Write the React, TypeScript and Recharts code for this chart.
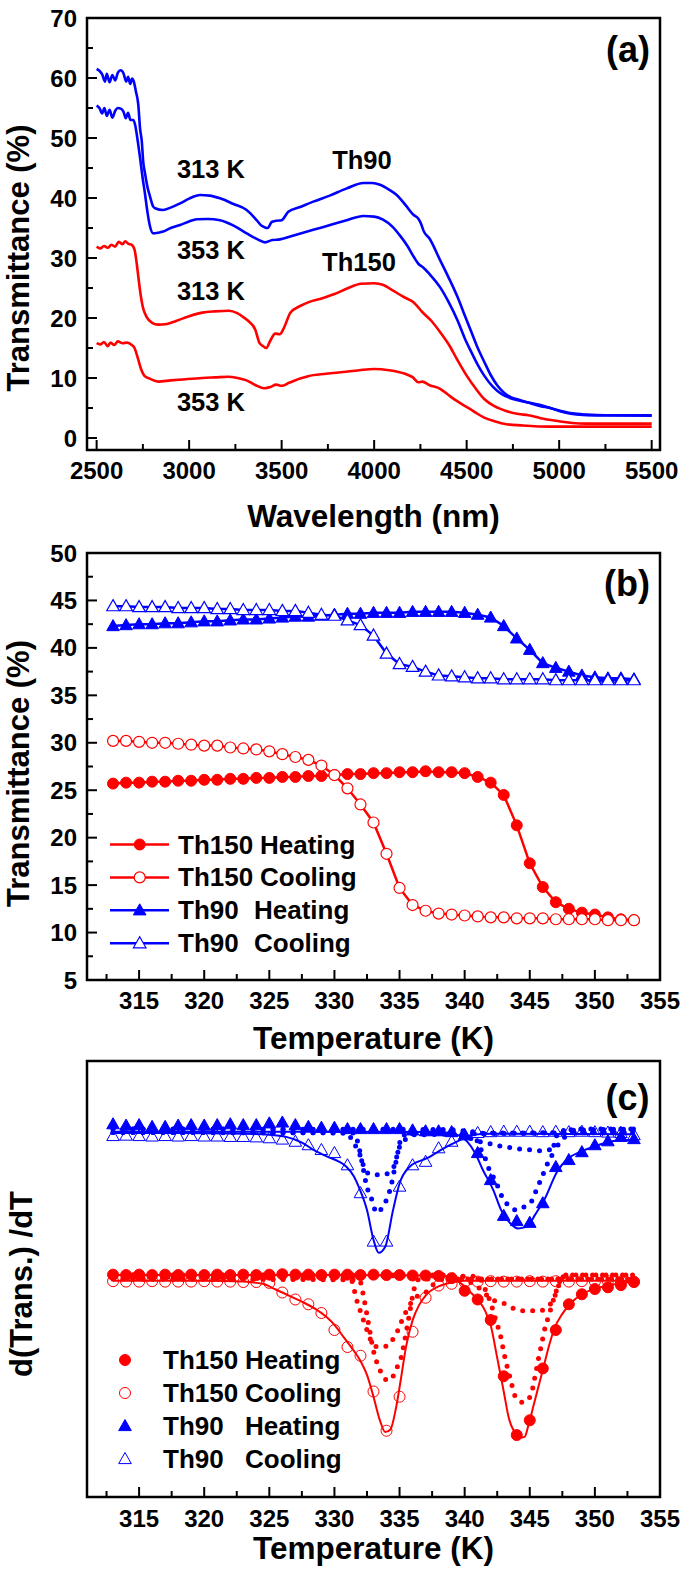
import React from 'react'
import {
  LineChart, ComposedChart, Line, Scatter, XAxis, YAxis, ReferenceArea, ReferenceDot, Legend,
} from 'recharts'

const FONT = '"Liberation Sans", Arial, sans-serif'
const RED = '#ff0000'
const BLUE = '#0000ff'

type Pt = [number, number]

// ---------- (a) spectra: [wavelength nm, transmittance %]
const th90At313: Pt[] = [
  [2500, 61.5], [2515, 61.2], [2530, 60.6], [2545, 59.4], [2555, 60.7], [2570, 59.3], [2585, 60.5],
  [2600, 59.6], [2615, 60.9], [2630, 61.3], [2645, 60.8], [2660, 59.4], [2670, 60.2], [2682, 59.0],
  [2692, 59.9], [2700, 59.5], [2712, 57.8], [2725, 55.6], [2735, 51.5], [2744, 49.5], [2752, 46.0],
  [2761, 44.2], [2775, 41.8], [2789, 40.2], [2805, 38.6], [2816, 38.3], [2860, 38.0], [2900, 38.4],
  [2951, 39.1], [3000, 39.9], [3059, 40.5], [3110, 40.4], [3167, 39.95], [3240, 39.0], [3311, 38.0],
  [3365, 36.3], [3390, 35.4], [3410, 35.1], [3425, 35.0], [3446, 36.0], [3470, 36.2], [3500, 36.3],
  [3536, 37.7], [3600, 38.5], [3671, 39.4], [3760, 40.4], [3852, 41.6], [3942, 42.5], [3990, 42.5],
  [4032, 42.2], [4080, 41.4], [4122, 40.5], [4170, 38.8], [4212, 37.2], [4240, 36.5], [4255, 35.6],
  [4266, 34.6], [4300, 33.2], [4357, 29.6], [4400, 26.9], [4452, 23.4], [4490, 20.4], [4524, 17.8],
  [4560, 15.0], [4595, 12.7], [4630, 10.5], [4667, 8.7], [4700, 7.6], [4738, 6.8], [4790, 6.3],
  [4833, 5.9], [4900, 5.5], [4952, 5.0], [5000, 4.6], [5071, 4.1], [5150, 3.9], [5250, 3.8], [5500, 3.8],
]
const th90At353: Pt[] = [
  [2500, 55.4], [2515, 55.0], [2530, 54.1], [2542, 55.0], [2555, 53.7], [2570, 54.7], [2585, 53.4],
  [2600, 54.5], [2615, 55.0], [2630, 54.9], [2645, 54.4], [2658, 53.3], [2670, 54.2], [2683, 53.0],
  [2698, 53.0], [2708, 52.2], [2716, 50.8], [2725, 48.9], [2734, 46.9], [2748, 43.5], [2761, 40.8],
  [2775, 37.6], [2789, 35.2], [2806, 34.1], [2830, 34.2], [2860, 34.4], [2900, 35.0], [2951, 35.5],
  [3000, 36.1], [3041, 36.45], [3100, 36.5], [3167, 36.3], [3240, 35.4], [3311, 34.1], [3370, 33.1],
  [3410, 32.6], [3450, 33.0], [3491, 33.1], [3560, 33.7], [3671, 34.7], [3762, 35.5], [3852, 36.3],
  [3942, 37.0], [4000, 36.9], [4048, 36.4], [4100, 35.2], [4143, 33.6], [4180, 32.0], [4214, 30.2],
  [4240, 29.0], [4262, 28.5], [4300, 27.3], [4357, 25.1], [4400, 22.8], [4452, 19.5], [4490, 16.6],
  [4524, 14.4], [4560, 12.2], [4595, 10.4], [4640, 8.6], [4690, 7.3], [4750, 6.5], [4833, 5.9],
  [4900, 5.3], [4952, 5.0], [5000, 4.5], [5071, 4.0], [5150, 3.8], [5500, 3.7],
]
const th150At313: Pt[] = [
  [2500, 31.9], [2520, 31.6], [2540, 32.0], [2560, 31.7], [2580, 32.2], [2600, 31.9], [2620, 32.7],
  [2640, 32.3], [2655, 32.8], [2670, 32.4], [2690, 32.2], [2705, 31.4], [2715, 29.5], [2725, 27.0],
  [2735, 24.5], [2750, 21.8], [2770, 20.2], [2800, 19.2], [2833, 18.9], [2880, 19.0], [2929, 19.5],
  [3000, 20.3], [3071, 20.9], [3140, 21.1], [3214, 21.2], [3260, 20.8], [3286, 20.3], [3320, 19.5],
  [3357, 18.1], [3381, 15.8], [3400, 15.3], [3417, 15.0], [3440, 16.3], [3465, 17.4], [3490, 17.3],
  [3510, 18.2], [3548, 20.9], [3600, 22.0], [3643, 22.6], [3720, 23.3], [3786, 24.0], [3860, 25.0],
  [3929, 25.7], [4000, 25.8], [4050, 25.5], [4100, 24.6], [4160, 23.5], [4214, 22.6], [4260, 21.0],
  [4310, 19.5], [4360, 17.5], [4405, 15.5], [4450, 13.0], [4500, 10.4], [4550, 8.2], [4595, 6.5],
  [4650, 5.3], [4714, 4.5], [4780, 4.0], [4833, 3.8], [4900, 3.3], [5000, 2.8], [5071, 2.5],
  [5143, 2.4], [5500, 2.4],
]
const th150At353: Pt[] = [
  [2500, 15.8], [2520, 15.6], [2540, 16.0], [2560, 15.3], [2575, 15.9], [2595, 15.5], [2615, 16.1],
  [2640, 15.8], [2665, 15.9], [2690, 15.5], [2705, 15.0], [2720, 13.6], [2740, 11.5], [2760, 10.3],
  [2786, 9.9], [2833, 9.4], [2900, 9.6], [2980, 9.8], [3071, 10.0], [3140, 10.1], [3214, 10.2],
  [3260, 10.0], [3310, 9.6], [3360, 8.8], [3405, 8.3], [3440, 8.5], [3470, 8.9], [3500, 8.7],
  [3540, 9.2], [3600, 9.9], [3643, 10.3], [3740, 10.7], [3833, 11.0], [3920, 11.3], [4000, 11.5],
  [4080, 11.3], [4167, 10.7], [4210, 10.1], [4238, 9.3], [4260, 9.4], [4300, 8.8], [4357, 8.2],
  [4400, 7.2], [4440, 6.3], [4476, 5.6], [4520, 4.8], [4560, 4.0], [4595, 3.4], [4650, 2.8],
  [4714, 2.3], [4800, 2.1], [4952, 1.9], [5500, 1.9],
]
const nmTicks = [2500, 2750, 3000, 3250, 3500, 3750, 4000, 4250, 4500, 4750, 5000, 5250, 5500]
const nmMajor = [2500, 3000, 3500, 4000, 4500, 5000, 5500]
const transTicksA = [0, 5, 10, 15, 20, 25, 30, 35, 40, 45, 50, 55, 60, 65, 70]
const transMajorA = [0, 10, 20, 30, 40, 50, 60, 70]

// ---------- (b) transmittance vs temperature
const tempK = [
  313, 314, 315, 316, 317, 318, 319, 320, 321, 322, 323, 324, 325, 326, 327, 328, 329, 330, 331, 332, 333,
  334, 335, 336, 337, 338, 339, 340, 341, 342, 343, 344, 345, 346, 347, 348, 349, 350, 351, 352, 353,
]
const th150Heat = [
  25.7, 25.8, 25.8, 25.9, 25.9, 26.0, 26.0, 26.1, 26.1, 26.2, 26.2, 26.3, 26.3, 26.4, 26.4, 26.5, 26.5,
  26.6, 26.7, 26.7, 26.8, 26.8, 26.9, 26.9, 27.0, 26.9, 26.9, 26.8, 26.4, 25.8, 24.5, 21.3, 17.3, 14.8,
  13.2, 12.5, 12.1, 11.9, 11.6, 11.4, 11.3,
]
const th150Cool = [
  30.2, 30.2, 30.1, 30.0, 30.0, 29.9, 29.8, 29.7, 29.7, 29.5, 29.4, 29.3, 29.1, 28.8, 28.5, 28.2, 27.6,
  26.6, 25.2, 23.5, 21.6, 18.3, 14.7, 12.9, 12.3, 12.0, 11.9, 11.8, 11.7, 11.6, 11.6, 11.5, 11.5, 11.5,
  11.4, 11.4, 11.4, 11.4, 11.3, 11.3, 11.3,
]
const th90Heat = [
  42.3, 42.4, 42.5, 42.5, 42.6, 42.6, 42.7, 42.8, 42.8, 42.9, 43.0, 43.0, 43.1, 43.2, 43.3, 43.3, 43.4,
  43.5, 43.6, 43.6, 43.7, 43.7, 43.7, 43.8, 43.8, 43.8, 43.8, 43.7, 43.5, 43.2, 42.3, 41.0, 39.8, 38.4,
  37.9, 37.5, 37.1, 36.9, 36.8, 36.8, 36.7,
]
const th90Cool = [
  44.4, 44.4, 44.3, 44.3, 44.3, 44.2, 44.2, 44.2, 44.1, 44.1, 44.0, 44.0, 44.0, 43.9, 43.9, 43.7, 43.5,
  43.4, 42.9, 42.4, 41.3, 39.4, 38.3, 38.0, 37.5, 37.1, 37.0, 36.9, 36.8, 36.8, 36.7, 36.7, 36.7, 36.7,
  36.6, 36.6, 36.6, 36.6, 36.6, 36.6, 36.6,
]
const tempTicks = [
  312.5, 315, 317.5, 320, 322.5, 325, 327.5, 330, 332.5, 335, 337.5, 340, 342.5, 345, 347.5, 350, 352.5, 355,
]
const tempMajor = [315, 320, 325, 330, 335, 340, 345, 350, 355]
const transTicksB = [
  5, 7.5, 10, 12.5, 15, 17.5, 20, 22.5, 25, 27.5, 30, 32.5, 35, 37.5, 40, 42.5, 45, 47.5, 50,
]
const transMajorB = [5, 10, 15, 20, 25, 30, 35, 40, 45, 50]
const seriesNames = ['Th150 Heating', 'Th150 Cooling', 'Th90 Heating', 'Th90 Cooling']

// ---------- (c) derivative, arbitrary offset units
const dTh150Heat = [
  51.0, 50.9, 51.0, 50.9, 51.0, 50.9, 51.0, 50.9, 51.0, 50.9, 51.0, 50.9, 51.0, 51.1, 51.0, 51.0, 50.9,
  51.0, 51.0, 50.9, 51.0, 50.9, 50.9, 50.8, 50.8, 50.7, 50.2, 47.3, 45.3, 40.6, 27.7, 14.2, 17.6, 29.5,
  38.3, 44.2, 46.5, 47.7, 48.1, 48.6, 49.3,
]
const dTh150Cool = [
  49.5, 49.4, 49.4, 49.5, 49.4, 49.4, 49.4, 49.5, 49.4, 49.4, 49.3, 49.3, 49.1, 46.9, 45.3, 44.2, 42.2,
  38.3, 34.4, 32.4, 24.2, 15.2, 23.0, 37.9, 45.7, 48.5, 48.9, 49.3, 49.4, 49.5, 49.4, 49.4, 49.5, 49.4,
  49.5, 49.4, 49.5, 49.4, 49.5, 49.4, 49.4,
]
const dTh90Heat = [
  85.5, 85.2, 85.3, 84.9, 84.9, 85.2, 85.3, 85.2, 85.3, 85.5, 85.3, 85.3, 85.7, 85.9, 85.3, 84.9, 84.7,
  84.7, 84.4, 84.4, 84.4, 84.4, 84.4, 84.1, 83.9, 83.9, 83.7, 83.0, 78.9, 72.7, 64.5, 63.3, 62.9, 67.4,
  75.7, 77.3, 79.1, 80.7, 81.6, 82.6, 82.1,
]
const dTh90Cool = [
  82.8, 82.9, 82.8, 82.7, 82.8, 82.7, 82.8, 82.7, 82.7, 82.6, 82.6, 82.5, 82.3, 82.0, 81.5, 80.7, 79.6,
  78.9, 76.1, 69.7, 58.6, 58.6, 71.2, 76.1, 76.9, 80.0, 81.5, 83.0, 83.5, 83.7, 83.8, 83.8, 83.8, 83.7,
  83.8, 83.7, 83.8, 83.7, 83.6, 83.5, 83.0,
]
// fitted sums (solid)
const fitTh150Heat: Pt[] = [
  [313, 50.9], [330, 50.9], [338, 50.8], [339, 50.3], [339.8, 48.8], [340.5, 46.8], [341.2, 44.6],
  [341.6, 42.5], [342.0, 39.4], [342.5, 31.9], [343.0, 24.2], [343.4, 18.0], [343.8, 15.0], [344.2, 13.6],
  [344.6, 13.8], [344.9, 16.5], [345.3, 21.1], [345.7, 25.7], [346.1, 30.3], [346.5, 34.9], [346.9, 38.7],
  [347.5, 42.0], [348.2, 44.6], [349, 46.5], [350, 47.8], [351, 48.5], [352, 49.0], [353, 49.4],
]
const fitTh150Cool: Pt[] = [
  [313, 49.6], [320, 49.6], [323, 49.4], [324.5, 48.9], [325.5, 47.6], [326.5, 46.2], [327.5, 44.8],
  [328.5, 43.2], [329.5, 41.0], [330, 39.5], [330.5, 37.5], [331, 35.5], [331.5, 33.5], [332, 31.2],
  [332.5, 28.0], [333, 23.0], [333.5, 17.5], [333.9, 14.9], [334.3, 15.5], [334.7, 20.0], [335.1, 27.0],
  [335.5, 34.5], [336, 40.5], [336.5, 44.0], [337, 46.2], [338, 48.3], [339, 49.2], [340, 49.6], [353, 49.6],
]
const fitTh90Heat: Pt[] = [
  [313, 83.8], [330, 83.8], [338, 83.7], [339.5, 83.0], [340.2, 81.5], [340.8, 78.9], [341.4, 75.0],
  [342.2, 70.4], [342.8, 65.8], [343.5, 62.8], [344.1, 61.6], [344.8, 62.0], [345.4, 64.7], [346.1, 68.1],
  [347.1, 74.6], [347.8, 77.3], [348.9, 79.2], [349.9, 80.3], [350.9, 81.3], [351.9, 81.8], [353, 81.9],
]
const fitTh90Cool: Pt[] = [
  [313, 83.5], [322, 83.4], [325, 83.1], [326.3, 82.6], [327.5, 81.3], [328.4, 79.6], [329.5, 78.0],
  [330.3, 77.0], [330.9, 75.8], [331.5, 73.5], [331.9, 70.9], [332.5, 65.8], [333.0, 59.0], [333.4, 56.0],
  [333.9, 57.4], [334.5, 65.8], [335.0, 71.9], [335.8, 75.8], [337.1, 77.7], [338.6, 80.3], [339.6, 81.8],
  [340.5, 83.0], [342, 83.3], [353, 83.2],
]
// peak components (dotted)
const compTh150Heat: Pt[][] = [
  [[313, 50.9], [339.5, 50.9], [340.3, 49.5], [341.0, 48.2], [341.7, 46.3], [342.3, 45.0], [343.0, 44.4],
    [343.8, 43.2], [344.5, 42.7], [345.8, 42.7], [346.3, 43.6], [346.8, 45.2], [347.1, 47.5], [347.4, 49.8],
    [347.8, 50.9], [353, 50.9]],
  [[313, 50.9], [341.0, 50.6], [341.6, 47.5], [342.0, 44.5], [342.4, 40.5], [342.8, 36.4], [343.0, 33.3],
    [343.5, 27.2], [343.9, 23.0], [344.5, 21.7], [345.1, 23.4], [345.3, 26.1], [345.5, 29.1], [345.7, 32.2],
    [345.9, 34.9], [346.1, 37.9], [346.5, 42.0], [346.9, 46.0], [347.3, 49.5], [347.6, 50.9], [353, 50.9]],
]
const compTh150Cool: Pt[][] = [
  [[313, 50.0], [330.8, 50.0], [331.3, 49.7], [331.6, 46.5], [331.8, 44.2], [332.05, 42.2], [332.3, 39.9],
    [332.6, 37.5], [332.8, 35.9], [333.1, 34.6], [333.5, 34.4], [334.0, 34.6], [334.6, 36.7], [335.0, 39.1],
    [335.3, 41.4], [335.6, 43.0], [335.9, 44.6], [336.4, 46.1], [337.0, 46.9], [337.5, 48.5], [338.0, 49.6],
    [338.5, 50.0], [353, 50.0]],
  [[313, 50.0], [331.9, 49.8], [332.3, 45.0], [332.6, 40.0], [333.0, 33.5], [333.3, 30.5], [333.6, 28.5],
    [334.1, 26.7], [334.5, 27.7], [334.8, 29.7], [335.1, 31.7], [335.4, 36.0], [335.7, 41.0], [336.0, 46.0],
    [336.3, 49.5], [336.6, 50.0], [353, 50.0]],
]
const compTh90Heat: Pt[][] = [
  [[313, 84.4], [339.0, 84.3], [339.8, 83.0], [340.5, 82.2], [341.0, 81.6], [341.6, 81.3], [342.4, 80.7],
    [343.1, 80.3], [343.8, 80.0], [344.5, 79.7], [345.2, 79.6], [345.9, 79.4], [346.6, 79.7], [347.3, 81.1],
    [347.8, 83.0], [348.3, 84.4], [353, 84.4]],
  [[313, 84.4], [340.5, 84.0], [341.2, 80.0], [341.6, 77.5], [341.9, 75.0], [342.4, 72.3], [342.8, 69.3],
    [343.2, 67.4], [344.0, 65.8], [344.6, 66.6], [345.2, 68.1], [345.5, 70.4], [345.9, 73.1], [346.3, 76.1],
    [346.7, 78.4], [346.9, 81.2], [347.3, 84.0], [353, 84.4]],
]
const compTh90Cool: Pt[][] = [
  [[313, 83.6], [331.0, 83.5], [331.4, 81.5], [331.8, 79.6], [332.1, 77.3], [332.4, 74.6], [333.0, 73.9],
    [333.7, 73.9], [334.4, 75.0], [334.7, 76.9], [334.9, 79.6], [335.3, 81.3], [335.8, 83.3], [353, 83.6]],
  [[313, 83.6], [331.5, 83.5], [331.9, 80.0], [332.2, 75.5], [332.5, 71.0], [332.8, 68.9], [333.0, 66.7],
    [333.3, 65.2], [333.7, 66.6], [334.1, 68.9], [334.3, 70.8], [334.6, 75.0], [334.9, 79.5], [335.2, 83.0],
    [353, 83.6]],
]

const fromPairs = (p: Pt[]) => p.map(([x, y]) => ({ x, y }))
const zip = (xs: number[], ys: number[]) => xs.map((x, i) => ({ x, y: ys[i] }))

const TICK_FS = 24

const xTick = (major: number[], gap = 29) => (p: any) => {
  const v = p.payload.value
  const big = major.includes(v)
  return (
    <g>
      <line x1={p.x} x2={p.x} y1={p.y} y2={p.y - (big ? 10 : 6)} stroke="#000" strokeWidth={2} />
      {big && (
        <text x={p.x} y={p.y + gap} textAnchor="middle" fontFamily={FONT} fontWeight={700} fontSize={TICK_FS} fill="#000">
          {v}
        </text>
      )}
    </g>
  )
}
const yTick = (major: number[]) => (p: any) => {
  const v = p.payload.value
  const big = major.includes(v)
  return (
    <g>
      <line x1={p.x} x2={p.x + (big ? 10 : 6)} y1={p.y} y2={p.y} stroke="#000" strokeWidth={2} />
      {big && (
        <text x={p.x - 10} y={p.y + 8.5} textAnchor="end" fontFamily={FONT} fontWeight={700} fontSize={TICK_FS} fill="#000">
          {v}
        </text>
      )}
    </g>
  )
}
const xTitle = (text: string, dy: number) => (p: any) => (
  <text x={p.viewBox.x + p.viewBox.width / 2} y={p.viewBox.y + dy} textAnchor="middle"
    fontFamily={FONT} fontWeight={700} fontSize={31.5} fill="#000">{text}</text>
)
const yTitle = (text: string, cx: number, cy: number) => () => (
  <text x={cx} y={cy} transform={`rotate(-90 ${cx} ${cy})`} textAnchor="middle" dominantBaseline="central"
    fontFamily={FONT} fontWeight={700} fontSize={31} fill="#000">{text}</text>
)
const note = (text: string, size: number, anchor: 'middle' | 'end' = 'middle') => (p: any) => (
  <text x={p.viewBox.x} y={p.viewBox.y} textAnchor={anchor} fontFamily={FONT} fontWeight={700}
    fontSize={size} fill="#000">{text}</text>
)

function Marker({ cx, cy, kind, color, open, fillOpen = '#fff', sw = 1.2 }: any) {
  if (cx == null || cy == null) return null
  if (kind === 'circle') {
    return <circle cx={cx} cy={cy} r={5.5} fill={open ? fillOpen : color} stroke={color} strokeWidth={open ? sw : 1} />
  }
  const d = `M${cx},${cy - 6.5} L${cx + 6.3},${cy + 4.6} L${cx - 6.3},${cy + 4.6} Z`
  return <path d={d} fill={open ? fillOpen : color} stroke={color} strokeWidth={open ? sw : 1} />
}

const styles = [
  { kind: 'circle', color: RED, open: false },
  { kind: 'circle', color: RED, open: true },
  { kind: 'triangle', color: BLUE, open: false },
  { kind: 'triangle', color: BLUE, open: true },
]

function LegendB() {
  return (
    <svg width={300} height={140}>
      {seriesNames.map((name, i) => {
        const cy = 24.5 + 32.9 * i
        const [w1, w2] = name.split(' ')
        const s = styles[i]
        return (
          <g key={name}>
            <line x1={10} x2={69} y1={cy} y2={cy} stroke={s.color} strokeWidth={2.5} />
            <Marker cx={39.7} cy={cy} {...s} />
            <text x={78} y={cy + 9} fontFamily={FONT} fontWeight={700} fontSize={26} fill="#000">{w1}</text>
            <text x={i < 2 ? 160 : 154} y={cy + 9} fontFamily={FONT} fontWeight={700} fontSize={26} fill="#000">{w2}</text>
          </g>
        )
      })}
    </svg>
  )
}

function LegendC() {
  return (
    <svg width={300} height={150}>
      {seriesNames.map((name, i) => {
        const cy = 30 + 33 * i
        const [w1, w2] = name.split(' ')
        const s = styles[i]
        return (
          <g key={name}>
            <Marker cx={25} cy={cy} {...s} fillOpen="none" sw={1} />
            <text x={63} y={cy + 9} fontFamily={FONT} fontWeight={700} fontSize={26} fill="#000">{w1}</text>
            <text x={145} y={cy + 9} fontFamily={FONT} fontWeight={700} fontSize={26} fill="#000">{w2}</text>
          </g>
        )
      })}
    </svg>
  )
}

const NM_DOMAIN: [number, number] = [2448, 5545]
const T_DOMAIN: [number, number] = [311, 355]

function PanelA() {
  const lines: [Pt[], string][] = [
    [th90At313, BLUE], [th90At353, BLUE], [th150At313, RED], [th150At353, RED],
  ]
  return (
    <LineChart width={689} height={540} margin={{ top: 18, right: 29, bottom: 0, left: 0 }}>
      <XAxis type="number" dataKey="x" domain={NM_DOMAIN} ticks={nmTicks} interval={0} height={90}
        tick={xTick(nmMajor)} tickLine={false} axisLine={false} tickSize={0} tickMargin={0} allowDataOverflow
        label={xTitle('Wavelength (nm)', 77)} />
      <YAxis type="number" dataKey="y" domain={[-2, 70]} ticks={transTicksA} interval={0} width={87}
        tick={yTick(transMajorA)} tickLine={false} axisLine={false} tickSize={0} tickMargin={0} allowDataOverflow
        label={yTitle('Transmittance (%)', 18, 258)} />
      <ReferenceArea x1={NM_DOMAIN[0]} x2={NM_DOMAIN[1]} y1={-2} y2={70} fill="none" stroke="#000" strokeWidth={2.5} />
      {lines.map(([d, c], i) => (
        <Line key={i} data={fromPairs(d)} dataKey="y" type="monotone" stroke={c} strokeWidth={2.6}
          dot={false} isAnimationActive={false} />
      ))}
      <ReferenceDot x={3118} y={43.33} r={0} label={note('313 K', 25.5)} />
      <ReferenceDot x={3934} y={44.83} r={0} label={note('Th90', 25.5)} />
      <ReferenceDot x={3118} y={29.83} r={0} label={note('353 K', 25.5)} />
      <ReferenceDot x={3918} y={27.83} r={0} label={note('Th150', 25.5)} />
      <ReferenceDot x={3118} y={23.0} r={0} label={note('313 K', 25.5)} />
      <ReferenceDot x={3118} y={4.5} r={0} label={note('353 K', 25.5)} />
      <ReferenceDot x={5491} y={62.67} r={0} label={note('(a)', 36, 'end')} />
    </LineChart>
  )
}

function PanelB() {
  const series = [th150Heat, th150Cool, th90Heat, th90Cool]
  return (
    <LineChart width={689} height={530} margin={{ top: 23, right: 29, bottom: 0, left: 0 }}>
      <XAxis type="number" dataKey="x" domain={T_DOMAIN} ticks={tempTicks} interval={0} height={80}
        tick={xTick(tempMajor)} tickLine={false} axisLine={false} tickSize={0} tickMargin={0} allowDataOverflow
        label={xTitle('Temperature (K)', 69)} />
      <YAxis type="number" dataKey="y" domain={[5, 50]} ticks={transTicksB} interval={0} width={87}
        tick={yTick(transMajorB)} tickLine={false} axisLine={false} tickSize={0} tickMargin={0} allowDataOverflow
        label={yTitle('Transmittance (%)', 18, 243.5)} />
      <ReferenceArea x1={T_DOMAIN[0]} x2={T_DOMAIN[1]} y1={5} y2={50} fill="none" stroke="#000" strokeWidth={2.5} />
      {series.map((vals, i) => (
        <Line key={i} data={zip(tempK, vals)} dataKey="y" type="linear" stroke={styles[i].color} strokeWidth={2.5}
          isAnimationActive={false}
          dot={(p: any) => <Marker key={`m${i}-${p.index}`} cx={p.cx} cy={p.cy} {...styles[i]} />} />
      ))}
      <ReferenceDot x={354.23} y={45.47} r={0} label={note('(b)', 36, 'end')} />
      <Legend layout="vertical" align="center" verticalAlign="middle" content={() => <LegendB />}
        wrapperStyle={{ left: 100, top: 290, width: 300, height: 140 }} />
    </LineChart>
  )
}

function PanelC() {
  const markers = [dTh150Heat, dTh150Cool, dTh90Heat, dTh90Cool]
  const fits: [Pt[], string][] = [
    [fitTh90Cool, BLUE], [fitTh90Heat, BLUE], [fitTh150Cool, RED], [fitTh150Heat, RED],
  ]
  const comps: [Pt[], string][] = [
    ...compTh90Cool.map((c): [Pt[], string] => [c, BLUE]),
    ...compTh90Heat.map((c): [Pt[], string] => [c, BLUE]),
    ...compTh150Cool.map((c): [Pt[], string] => [c, RED]),
    ...compTh150Heat.map((c): [Pt[], string] => [c, RED]),
  ]
  return (
    <ComposedChart width={689} height={525} margin={{ top: 11, right: 29, bottom: 0, left: 0 }}>
      <XAxis type="number" dataKey="x" domain={T_DOMAIN} ticks={tempTicks} interval={0} height={78}
        tick={xTick(tempMajor, 30)} tickLine={false} axisLine={false} tickSize={0} tickMargin={0} allowDataOverflow
        label={xTitle('Temperature (K)', 62)} />
      <YAxis type="number" dataKey="y" domain={[0, 100]} width={87} tick={false} tickLine={false}
        axisLine={false} allowDataOverflow label={yTitle('d(Trans.) /dT', 21, 234)} />
      <ReferenceArea x1={T_DOMAIN[0]} x2={T_DOMAIN[1]} y1={0} y2={100} fill="none" stroke="#000" strokeWidth={2.5} />
      {comps.map(([d, c], i) => (
        <Line key={`c${i}`} data={fromPairs(d)} dataKey="y" type="monotone" stroke={c} strokeWidth={5}
          strokeDasharray="0 10" strokeLinecap="round" dot={false} isAnimationActive={false} />
      ))}
      {fits.map(([d, c], i) => (
        <Line key={`f${i}`} data={fromPairs(d)} dataKey="y" type="monotone" stroke={c} strokeWidth={2}
          dot={false} isAnimationActive={false} />
      ))}
      {markers.map((vals, i) => (
        <Scatter key={`s${i}`} data={zip(tempK, vals)} dataKey="y" isAnimationActive={false}
          shape={(p: any) => <Marker cx={p.cx} cy={p.cy} {...styles[i]} fillOpen="none" sw={1} />} />
      ))}
      <ReferenceDot x={354.2} y={88.76} r={0} label={note('(c)', 36, 'end')} />
      <Legend layout="vertical" align="center" verticalAlign="middle" content={() => <LegendC />}
        wrapperStyle={{ left: 100, top: 280, width: 300, height: 150 }} />
    </ComposedChart>
  )
}

export default function App() {
  return (
    <div style={{ position: 'absolute', left: 0, top: 0, width: 689, height: 1575, background: '#fff' }}>
      <div style={{ position: 'absolute', left: 0, top: 0 }}><PanelA /></div>
      <div style={{ position: 'absolute', left: 0, top: 530 }}><PanelB /></div>
      <div style={{ position: 'absolute', left: 0, top: 1050 }}><PanelC /></div>
    </div>
  )
}
